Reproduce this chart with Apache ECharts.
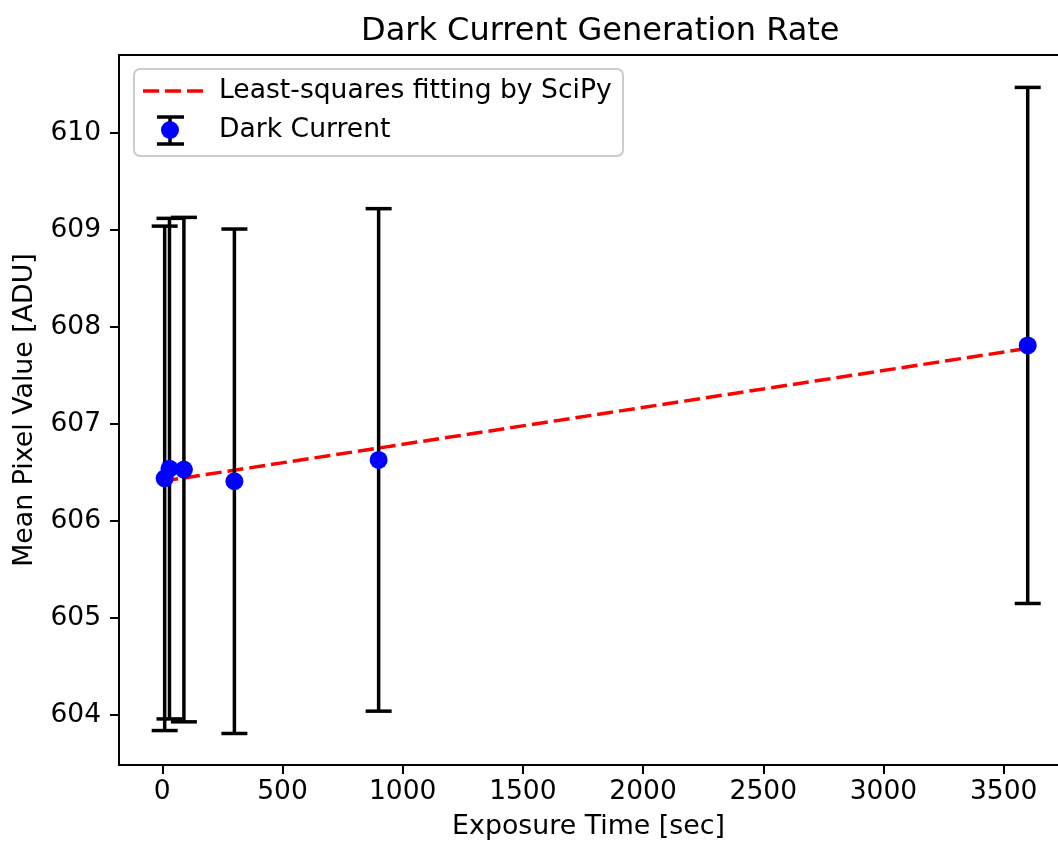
<!DOCTYPE html>
<html>
<head>
<meta charset="utf-8">
<script src="https://cdn.jsdelivr.net/npm/echarts@6/dist/echarts.min.js"></script>
<style>
  html, body { margin: 0; padding: 0; background: #fff; }
  #chart { width: 1058px; height: 848px; }
</style>
</head>
<body>
<div id="chart"></div>
<script>
// measured values
var exposure = [10, 30, 90, 300, 900, 3600]
var meanPixel = [606.44, 606.54, 606.53, 606.41, 606.63, 607.81]
var pixelErr = [2.60, 2.58, 2.60, 2.60, 2.59, 2.66]
// least-squares line at its ends
var fitX = [0, 3600]
var fitY = [606.41, 607.78]
var xTicks = [0, 500, 1000, 1500, 2000, 2500, 3000, 3500]
var yTicks = [604, 605, 606, 607, 608, 609, 610]

var font = 'DejaVu Sans'
// the original figure is cropped on the right, so the x range stops at the page edge
var xMin = -180
var xMax = 3726

var errData = exposure.map(function (x, i) {
  return [x, meanPixel[i] - pixelErr[i], meanPixel[i] + pixelErr[i]]
})
var pointData = exposure.map(function (x, i) { return [x, meanPixel[i]] })
var fitData = fitX.map(function (x, i) { return [x, fitY[i]] })

function renderErr (params, api) {
  var x = api.value(0)
  var top = api.coord([x, api.value(2)])
  var bot = api.coord([x, api.value(1)])
  var hw = 13
  var style = { stroke: '#000', lineWidth: 3.5 }
  return {
    type: 'group',
    children: [
      { type: 'line', shape: { x1: top[0], y1: top[1], x2: bot[0], y2: bot[1] }, style: style },
      { type: 'line', shape: { x1: top[0] - hw, y1: top[1], x2: top[0] + hw, y2: top[1] }, style: style },
      { type: 'line', shape: { x1: bot[0] - hw, y1: bot[1], x2: bot[0] + hw, y2: bot[1] }, style: style }
    ]
  }
}

function plain (v) { return String(v) }

var myChart = echarts.init(document.getElementById('chart'))
myChart.setOption({
  animation: false,
  backgroundColor: '#fff',
  title: {
    text: 'Dark Current Generation Rate',
    left: 356,
    top: 11,
    textStyle: { fontFamily: font, fontSize: 32, fontWeight: 'normal', color: '#000' }
  },
  grid: {
    left: 119,
    top: 55,
    right: 0,
    bottom: 83
  },
  xAxis: [
    {
      type: 'value',
      min: xMin,
      max: xMax,
      name: 'Exposure Time [sec]',
      nameLocation: 'middle',
      nameGap: 49,
      nameTextStyle: { fontFamily: font, fontSize: 26.8, color: '#000' },
      axisLine: { show: true, onZero: false, lineStyle: { color: '#000', width: 2 } },
      axisTick: { show: true, length: 9, lineStyle: { color: '#000', width: 2 }, customValues: xTicks },
      axisLabel: { fontFamily: font, fontSize: 26.5, color: '#000', margin: 14, customValues: xTicks, formatter: plain },
      splitLine: { show: false }
    },
    {
      // top spine
      type: 'value',
      position: 'top',
      min: xMin,
      max: xMax,
      axisLine: { show: true, onZero: false, lineStyle: { color: '#000', width: 2 } },
      axisTick: { show: false },
      axisLabel: { show: false },
      splitLine: { show: false }
    }
  ],
  yAxis: {
    type: 'value',
    min: 603.485,
    max: 610.804,
    name: 'Mean Pixel Value [ADU]',
    nameLocation: 'middle',
    nameGap: 80,
    nameTextStyle: { fontFamily: font, fontSize: 26.8, color: '#000' },
    axisLine: { show: true, onZero: false, lineStyle: { color: '#000', width: 2 } },
    axisTick: { show: true, length: 9, lineStyle: { color: '#000', width: 2 }, customValues: yTicks },
    axisLabel: { fontFamily: font, fontSize: 26.5, color: '#000', margin: 18, customValues: yTicks, formatter: plain },
    splitLine: { show: false }
  },
  series: [
    {
      name: 'Least-squares fitting by SciPy',
      type: 'line',
      data: fitData,
      showSymbol: false,
      lineStyle: { color: '#ff0000', width: 3.5, type: [16, 6] },
      z: 2
    },
    {
      name: 'Dark Current err',
      type: 'custom',
      renderItem: renderErr,
      data: errData,
      encode: { x: 0, y: [1, 2] },
      clip: false,
      z: 3
    },
    {
      name: 'Dark Current',
      type: 'scatter',
      data: pointData,
      symbolSize: 18,
      itemStyle: { color: '#0000ff', opacity: 1 },
      z: 4
    }
  ],
  graphic: [
    {
      type: 'group',
      left: 133,
      top: 68,
      z: 100,
      children: [
        { type: 'rect', shape: { x: 0, y: 0, width: 489, height: 87, r: 6 },
          style: { fill: 'rgba(255,255,255,0.8)', stroke: '#cccccc', lineWidth: 2 } },
        { type: 'line', shape: { x1: 9, y1: 22, x2: 73, y2: 22 },
          style: { stroke: '#ff0000', lineWidth: 3.5, lineDash: [16, 6] } },
        { type: 'text', x: 85, y: 22,
          style: { text: 'Least-squares fitting by SciPy', fill: '#000', font: '26.6px "DejaVu Sans"', textVerticalAlign: 'middle' } },
        { type: 'line', shape: { x1: 36, y1: 48, x2: 36, y2: 75 }, style: { stroke: '#000', lineWidth: 3.5 } },
        { type: 'line', shape: { x1: 23, y1: 48, x2: 50, y2: 48 }, style: { stroke: '#000', lineWidth: 3.5 } },
        { type: 'line', shape: { x1: 23, y1: 75, x2: 50, y2: 75 }, style: { stroke: '#000', lineWidth: 3.5 } },
        { type: 'circle', shape: { cx: 36, cy: 61, r: 9 }, style: { fill: '#0000ff' } },
        { type: 'text', x: 85, y: 61,
          style: { text: 'Dark Current', fill: '#000', font: '26.6px "DejaVu Sans"', textVerticalAlign: 'middle' } }
      ]
    }
  ]
})
window.onresize = function () {
  myChart.resize()
}
</script>
</body>
</html>
